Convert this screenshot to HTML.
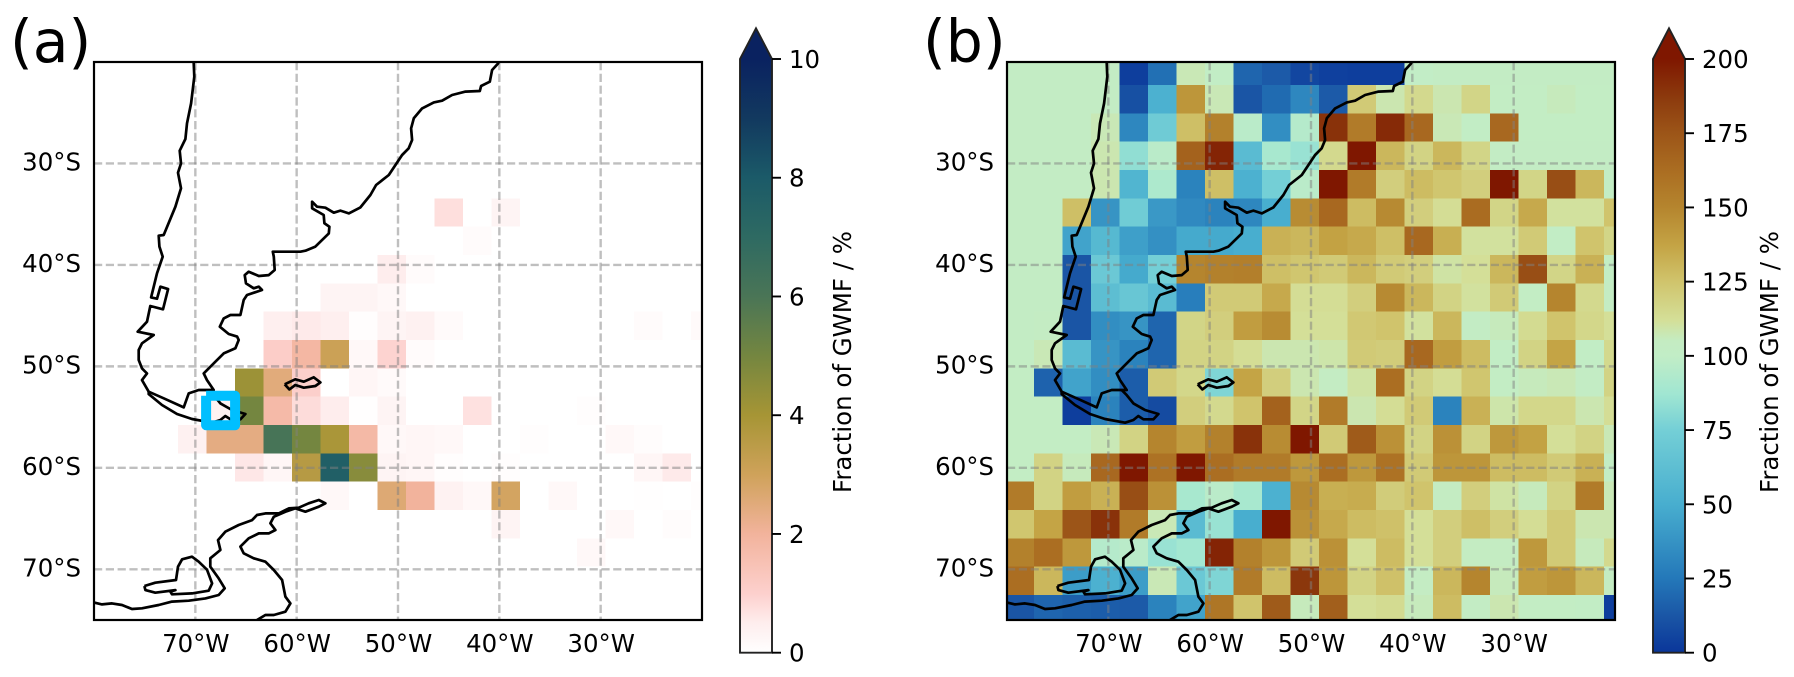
<!DOCTYPE html>
<html lang="en">
<head>
<meta charset="utf-8">
<title>Fraction of GWMF maps</title>
<style>
html,body{margin:0;padding:0;background:#fff;}
svg{display:block;}
text{font-family:"DejaVu Sans","Liberation Sans",sans-serif;fill:#000;}
</style>
</head>
<body>
<svg id="figure" xmlns="http://www.w3.org/2000/svg" width="1794" height="677" viewBox="0 0 1794 677"></svg>
<script>
// ---------- chart data ----------
const lonTicks = [-70, -60, -50, -40, -30];
const latTicks = [-30, -40, -50, -60, -70];
const lonTickLabels = ['70°W', '60°W', '50°W', '40°W', '30°W'];
const latTickLabels = ['30°S', '40°S', '50°S', '60°S', '70°S'];
const colorbarTicksA = [0, 2, 4, 6, 8, 10];
const colorbarTicksB = [0, 25, 50, 75, 100, 125, 150, 175, 200];

const fractionA = [
[0,0,0,0,0,0,0,0,0,0,0,0,0,0,0,0,0,0,0,0,0,0],
[0,0,0,0,0,0,0,0,0,0,0,0,0,0,0,0,0,0,0,0,0,0],
[0,0,0,0,0,0,0,0,0,0,0,0,0,0,0,0,0,0,0,0,0,0],
[0,0,0,0,0,0,0,0,0,0,0,0,0,0,0,0,0,0,0,0,0,0],
[0,0,0,0,0,0,0,0,0,0,0,0,0,0,0,0,0,0,0,0,0,0],
[0,0,0,0,0,0,0,0,0,0,0,0,.75,0,.3,0,0,0,0,0,0,0],
[0,0,0,0,0,0,0,0,0,0,0,0,0,.1,0,0,0,0,0,0,0,0],
[0,0,0,0,0,0,0,0,0,0,.5,.1,0,0,0,0,0,0,0,0,0,0],
[0,0,0,0,0,0,0,0,.3,.3,.2,0,0,0,0,0,0,0,0,0,0,0],
[0,0,0,0,0,0,.45,.55,.45,.05,.3,.4,.15,0,0,0,0,0,0,.1,0,.15],
[0,0,0,0,0,0,1.1,1.85,3.1,.2,.95,.1,0,0,0,0,0,0,0,0,0,0],
[0,0,0,0,0,4.2,2.5,1.05,0,.25,.15,0,0,0,0,0,0,0,0,0,0,0],
[0,0,0,0,.35,5,1.75,.8,.5,.03,.3,0,0,.7,0,0,0,.05,0,0,0,0],
[0,0,0,.4,2.4,2.4,6.1,5,3.9,1.8,.2,.25,.2,0,0,.05,0,0,.2,.08,0,0],
[0,0,0,0,0,.6,.25,3.6,7.7,4.6,.3,.25,.05,0,.05,0,0,0,0,.25,.55,0],
[0,0,0,0,0,0,0,0,.2,0,2.6,2,.35,.2,2.9,0,.2,0,0,.03,0,.05],
[0,0,0,0,0,0,0,0,0,0,0,0,0,0,.3,0,0,0,.2,0,.08,0],
[0,0,0,0,0,0,0,0,0,0,0,0,0,0,0,0,0,.2,0,0,0,0],
[0,0,0,0,0,0,0,0,0,0,0,0,0,0,0,0,0,0,0,0,0,0],
[0,0,0,0,0,0,0,0,0,0,0,0,0,0,0,0,0,0,0,0,0,0]
];

const fractionB = [
[103,103,103,103,3,22,107,101,18,14,6,4,3,3,100,103,103,103,103,103,103,103],
[103,103,103,103,10,52,143,107,12,20,32,14,122,108,115,108,117,102,102,106,102,102],
[103,103,103,107,32,72,127,152,97,35,95,190,155,193,165,107,101,165,102,102,102,102],
[103,103,103,108,83,97,168,195,60,90,85,115,200,130,118,130,117,103,103,103,103,103],
[103,103,103,108,55,92,30,127,52,75,97,200,155,120,128,124,120,200,117,178,130,102],
[103,103,127,38,73,40,33,30,32,50,147,165,128,148,120,113,163,117,135,111,111,125],
[103,103,45,58,43,36,48,48,50,132,130,138,135,127,165,133,111,111,122,101,125,117],
[103,103,12,70,48,75,150,152,153,127,124,122,130,122,120,110,112,130,178,117,132,102],
[103,103,12,62,68,60,28,122,122,135,113,113,120,148,130,118,111,122,102,150,115,104],
[103,104,12,35,38,18,117,120,140,147,112,112,123,125,111,130,103,106,114,125,116,112],
[102,107,60,38,30,18,118,118,113,108,108,109,122,121,165,140,128,101,118,137,101,115],
[102,17,45,35,15,122,116,78,137,120,108,104,110,162,118,113,124,102,106,107,103,118],
[102,102,3,30,15,8,120,115,125,168,117,155,108,113,122,30,132,109,116,116,108,113],
[102,102,102,107,118,150,140,152,190,147,200,122,172,145,118,145,118,142,138,112,118,107],
[102,118,106,165,200,160,200,162,155,155,142,162,142,160,122,143,143,128,128,122,132,102],
[155,118,140,132,178,145,90,97,90,52,148,133,134,121,125,105,120,110,106,118,155,107],
[124,137,175,190,155,107,60,85,50,200,145,135,128,126,112,120,127,120,113,122,108,108],
[152,162,142,95,97,85,88,195,152,143,122,145,112,128,112,120,105,105,142,122,106,115],
[162,130,42,52,42,107,70,78,155,128,188,143,118,126,104,130,150,106,140,143,130,105],
[12,18,16,15,14,30,45,158,125,172,106,170,112,114,106,128,103,108,102,102,101,3]
];

// ---------- coastline geography, [lon, lat] ----------
const coastAmerica = [[-70.16,-20.07],[-70.10,-21.45],[-70.42,-24.07],[-70.82,-26.05],[-70.98,-27.59],[-71.54,-28.74],[-71.41,-29.99],[-71.71,-30.91],[-71.41,-32.45],[-71.97,-34.26],[-73.12,-37.05],[-73.62,-37.12],[-73.55,-38.20],[-73.22,-39.19],[-73.78,-40.83],[-74.37,-43.20],[-73.78,-43.33],[-73.45,-42.15],[-72.69,-42.38],[-73.19,-44.38],[-74.44,-44.05],[-74.77,-45.60],[-75.69,-46.58],[-74.11,-46.91],[-75.26,-47.73],[-75.59,-48.39],[-75.59,-49.37],[-75.26,-50.20],[-74.77,-50.69],[-75.26,-51.35],[-74.60,-52.50],[-73.12,-53.15],[-71.15,-54.04],[-70.65,-52.66],[-69.67,-52.33],[-68.19,-52.33],[-68.85,-51.35],[-69.17,-50.69],[-68.02,-49.54],[-67.20,-48.72],[-66.05,-48.22],[-65.72,-47.40],[-65.88,-47.07],[-66.71,-46.81],[-67.59,-46.09],[-67.20,-45.27],[-66.54,-44.94],[-65.55,-44.94],[-65.23,-43.46],[-64.90,-42.97],[-63.42,-42.47],[-63.74,-42.15],[-64.24,-42.31],[-65.00,-41.82],[-65.13,-41.00],[-64.73,-40.67],[-63.74,-41.09],[-62.76,-41.00],[-62.17,-40.50],[-62.26,-39.19],[-62.36,-38.70],[-59.63,-38.70],[-59.14,-38.60],[-58.15,-38.20],[-56.83,-36.89],[-56.77,-36.23],[-57.26,-35.90],[-57.33,-35.08],[-58.48,-34.42],[-58.48,-33.77],[-57.99,-34.26],[-57.16,-34.36],[-56.34,-34.85],[-55.68,-34.65],[-54.86,-34.92],[-53.71,-34.33],[-52.72,-33.11],[-52.16,-32.12],[-50.91,-31.14],[-49.60,-29.17],[-48.94,-28.51],[-48.61,-27.69],[-48.71,-26.54],[-48.44,-25.55],[-47.62,-24.57],[-46.47,-23.98],[-45.65,-23.81],[-44.66,-23.25],[-43.34,-22.92],[-41.93,-22.86],[-41.80,-22.37],[-40.94,-21.94],[-40.71,-20.79],[-40.05,-20.07]];
const coastFuego = [[-74.60,-52.50],[-74.60,-52.73],[-73.29,-53.81],[-71.81,-54.70],[-70.33,-55.19],[-68.35,-55.55],[-67.53,-55.29],[-67.04,-54.89],[-66.54,-55.22],[-65.55,-55.22],[-65.06,-54.70],[-66.38,-54.30],[-67.53,-53.65],[-68.19,-52.83],[-68.68,-52.33]];
const coastFalkland = [[-61.18,-51.77],[-60.13,-51.28],[-59.30,-51.51],[-58.32,-51.08],[-57.66,-51.58],[-58.15,-51.94],[-59.30,-52.10],[-60.13,-51.84],[-60.72,-52.27],[-61.18,-51.77]];
const coastAntarctica = [[-79.93,-73.29],[-79.21,-73.46],[-78.22,-73.36],[-77.24,-73.52],[-76.25,-73.92],[-75.26,-73.85],[-73.62,-73.52],[-72.30,-73.19],[-70.65,-73.10],[-69.01,-72.87],[-67.69,-72.54],[-67.10,-71.88],[-67.69,-70.90],[-68.52,-69.75],[-68.52,-68.92],[-67.53,-68.10],[-67.76,-67.12],[-67.04,-66.30],[-65.72,-65.64],[-64.40,-65.15],[-63.91,-64.65],[-63.09,-64.49],[-61.77,-64.49],[-60.78,-64.00],[-59.80,-63.93],[-58.81,-63.50],[-57.82,-63.17],[-57.16,-63.50],[-57.82,-63.83],[-59.14,-64.33],[-60.13,-64.00],[-61.11,-64.33],[-62.26,-64.82],[-62.59,-65.47],[-62.10,-66.13],[-62.76,-66.46],[-63.74,-66.46],[-64.73,-66.95],[-65.55,-67.77],[-65.23,-68.43],[-64.24,-68.92],[-63.09,-69.25],[-62.26,-70.07],[-61.44,-71.06],[-61.11,-72.70],[-60.62,-73.36],[-61.11,-74.18],[-62.26,-74.51],[-63.09,-74.51],[-63.91,-75.00]];
const coastAlexander = [[-75.03,-71.65],[-73.95,-71.32],[-71.91,-71.06],[-71.71,-69.75],[-71.31,-69.02],[-70.33,-68.76],[-69.67,-69.25],[-68.85,-70.04],[-68.35,-71.39],[-68.68,-72.11],[-70.33,-72.38],[-72.30,-72.47],[-72.46,-72.21],[-71.97,-72.05],[-73.95,-72.31],[-74.93,-72.05],[-75.03,-71.65]];
const studyBox = [[-68.94,-52.9],[-66.08,-52.9],[-66.08,-55.8],[-68.94,-55.8],[-68.94,-52.9]];

// ---------- colour maps (value, colour) ----------
const cmapAValues = [0, .5, 1, 2, 3, 4, 5, 6, 7, 8, 9, 10];
const cmapAColors = ['#ffffff','#feeded','#fdd0cd','#f2b39c','#cfa25a','#a69535','#748640','#4a7556','#2e6a62','#1b5a68','#12395f','#0a2260'];
const cmapBValues = [0, 12, 25, 50, 75, 87, 100, 105, 112, 125, 137, 150, 162, 175, 187, 200];
const cmapBColors = ['#0a369a','#1a55a5','#2478b9','#48aecf','#74cfd6','#a0e6d2','#c2edc6','#c4ecc2','#d4df98','#d0c46c','#c4a445','#b5852e','#ab6e22','#9c5518','#8c3a0d','#7f1700'];

// ---------- layout ----------
const NS = 'http://www.w3.org/2000/svg';
const svg = document.getElementById('figure');
const latTop = -20, latBottom = -75, lonLeft = -80, lonRight = -20;
const axTop = 62, axBottom = 620, axWidth = 608;
const cbTop = 59, cbBottom = 652.7, cbWidth = 32;
const firstLonEdge = -77.34, lonStep = 2.8125, firstLatEdge = -22.27, latStep = 2.7925;
const tickFont = 24.44;

function hexRgb(h) {
  return [parseInt(h.slice(1,3),16), parseInt(h.slice(3,5),16), parseInt(h.slice(5,7),16)];
}
function colorFor(v, vals, cols) {
  if (v <= vals[0]) return cols[0];
  for (let i = 1; i < vals.length; i++) {
    if (v <= vals[i]) {
      const t = (v - vals[i-1]) / (vals[i] - vals[i-1]);
      const a = hexRgb(cols[i-1]), b = hexRgb(cols[i]);
      return 'rgb(' + a.map((c, k) => Math.round(c + (b[k] - c) * t)).join(',') + ')';
    }
  }
  return cols[cols.length - 1];
}
function make(tag, attrs, parent) {
  const el = document.createElementNS(NS, tag);
  for (const k in attrs) el.setAttribute(k, attrs[k]);
  parent.appendChild(el);
  return el;
}

function drawPanel(p) {
  const xOf = lon => p.axLeft + (lon - lonLeft) / (lonRight - lonLeft) * axWidth;
  const yOf = lat => axTop + (latTop - lat) / (latTop - latBottom) * (axBottom - axTop);
  const lineOf = pts => pts.map(q => xOf(q[0]).toFixed(1) + ',' + yOf(q[1]).toFixed(1)).join(' ');

  const panel = make('g', {}, svg);
  
  

  const clip = make('clipPath', {id: 'clip-' + p.key}, panel);
  make('rect', {x: p.axLeft, y: axTop, width: axWidth, height: axBottom - axTop}, clip);

  const cells = make('g', {'clip-path': 'url(#clip-' + p.key + ')', 'shape-rendering': 'crispEdges'}, panel);
  
  
  p.values.forEach((row, r) => {
    row.forEach((v, c) => {
      const lonA = c === 0 ? lonLeft : firstLonEdge + (c - 1) * lonStep;
      const lonB = c === row.length - 1 ? lonRight : firstLonEdge + c * lonStep;
      const latA = r === 0 ? latTop : firstLatEdge - (r - 1) * latStep;
      const latB = r === p.values.length - 1 ? latBottom : firstLatEdge - r * latStep;
      const cell = make('rect', {
        x: xOf(lonA).toFixed(2), y: yOf(latA).toFixed(2),
        width: (xOf(lonB) - xOf(lonA)).toFixed(2), height: (yOf(latB) - yOf(latA)).toFixed(2),
        fill: colorFor(v, p.cmapVals, p.cmapCols)
      }, cells);
      
      
    });
  });

  const clipped = make('g', {'clip-path': 'url(#clip-' + p.key + ')'}, panel);
  lonTicks.forEach(lon => {
    const g = make('line', {x1: xOf(lon), x2: xOf(lon), y1: axTop, y2: axBottom, stroke: '#808080', 'stroke-opacity': .5, 'stroke-width': 2.4, 'stroke-dasharray': '8.2 3.6'}, clipped);
    
    
  });
  latTicks.forEach(lat => {
    const g = make('line', {x1: p.axLeft, x2: p.axLeft + axWidth, y1: yOf(lat), y2: yOf(lat), stroke: '#808080', 'stroke-opacity': .5, 'stroke-width': 2.4, 'stroke-dasharray': '8.2 3.6'}, clipped);
    
    
  });

  [coastAmerica, coastFuego, coastFalkland, coastAntarctica, coastAlexander].forEach(pts => {
    const coast = make('polyline', {points: lineOf(pts), fill: 'none', stroke: '#000', 'stroke-width': 2.7, 'stroke-linejoin': 'round'}, clipped);
    
    
  });

  if (p.box) {
    const box = make('polyline', {points: lineOf(studyBox), fill: 'none', stroke: '#00bfff', 'stroke-width': 10, 'stroke-linejoin': 'round'}, panel);
    
    
  }

  const frame = make('rect', {x: p.axLeft, y: axTop, width: axWidth, height: axBottom - axTop, fill: 'none', stroke: '#000', 'stroke-width': 2.2}, panel);
  
  

  lonTicks.forEach((lon, i) => {
    const t = make('text', {x: xOf(lon) + 0.5, y: 652, 'font-size': tickFont, 'text-anchor': 'middle'}, panel);
    t.textContent = lonTickLabels[i];
    
    
  });
  latTicks.forEach((lat, i) => {
    const t = make('text', {x: p.axLeft - 13, y: yOf(lat) + 7, 'font-size': tickFont, 'text-anchor': 'end'}, panel);
    t.textContent = latTickLabels[i];
    
    
  });

  const title = make('text', {x: p.titleX, y: 62, 'font-size': 58.4}, panel);
  title.textContent = p.title;
  
  

  // colour bar
  const cb = make('g', {}, panel);
  
  
  const vmax = p.cmapVals[p.cmapVals.length - 1];
  const cbY = v => cbBottom - v / vmax * (cbBottom - cbTop);
  const grad = make('linearGradient', {id: 'grad-' + p.key, x1: 0, x2: 0, y1: 1, y2: 0}, cb);
  p.cmapVals.forEach((v, i) => {
    make('stop', {offset: v / vmax, 'stop-color': p.cmapCols[i]}, grad);
  });
  make('rect', {x: p.cbLeft, y: cbTop, width: cbWidth, height: cbBottom - cbTop, fill: 'url(#grad-' + p.key + ')'}, cb);
  const top = p.cmapCols[p.cmapCols.length - 1];
  make('polygon', {points: p.cbLeft + ',' + cbTop + ' ' + (p.cbLeft + cbWidth / 2) + ',28.3 ' + (p.cbLeft + cbWidth) + ',' + cbTop, fill: top}, cb);
  make('polygon', {points: p.cbLeft + ',' + cbBottom + ' ' + p.cbLeft + ',' + cbTop + ' ' + (p.cbLeft + cbWidth / 2) + ',28.3 ' + (p.cbLeft + cbWidth) + ',' + cbTop + ' ' + (p.cbLeft + cbWidth) + ',' + cbBottom, fill: 'none', stroke: '#222', 'stroke-width': 1.9}, cb);
  p.cbTicks.forEach(v => {
    const tick = make('line', {x1: p.cbLeft + cbWidth, x2: p.cbLeft + cbWidth + 9, y1: cbY(v), y2: cbY(v), stroke: '#000', 'stroke-width': 1.9}, cb);
    
    
    const lab = make('text', {x: p.cbLeft + cbWidth + 17, y: cbY(v) + 9, 'font-size': tickFont}, cb);
    lab.textContent = String(v);
    
    
  });
  const yLab = make('text', {'font-size': tickFont, 'text-anchor': 'middle', transform: 'translate(' + p.cbLabelX + ',362) rotate(-90)'}, cb);
  yLab.textContent = 'Fraction of GWMF / %';
  
  
}

drawPanel({key: 'a', title: '(a)', titleX: 10, axLeft: 94, cbLeft: 740, cbLabelX: 851, values: fractionA, cmapVals: cmapAValues, cmapCols: cmapAColors, cbTicks: colorbarTicksA, box: true});
drawPanel({key: 'b', title: '(b)', titleX: 923, axLeft: 1007, cbLeft: 1653, cbLabelX: 1778, values: fractionB, cmapVals: cmapBValues, cmapCols: cmapBColors, cbTicks: colorbarTicksB, box: false});
</script>
</body>
</html>
